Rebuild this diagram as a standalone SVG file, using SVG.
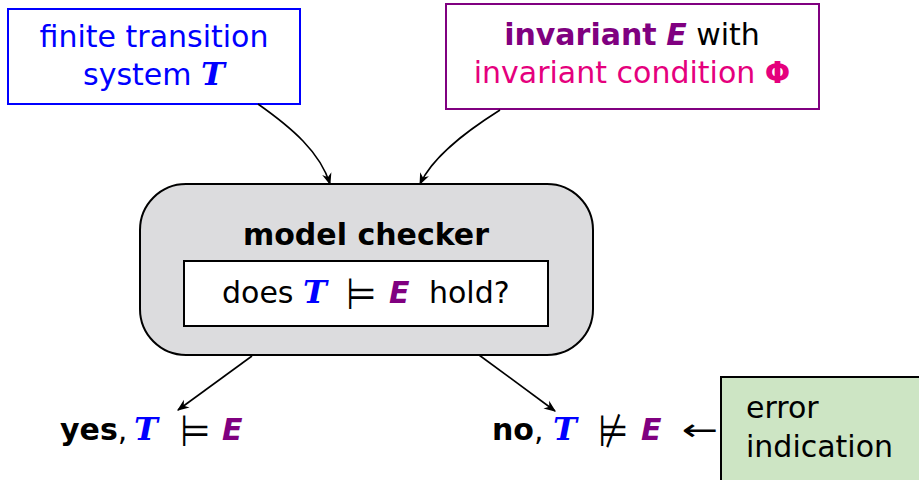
<svg xmlns="http://www.w3.org/2000/svg" width="919" height="480" viewBox="0 0 919 480">
<defs>
<marker id="ah" viewBox="0 0 10 10" refX="9" refY="5" markerWidth="12" markerHeight="12" markerUnits="userSpaceOnUse" orient="auto">
<path d="M0,1 L10,5 L0,9 L3,5 Z" fill="#000"/>
</marker>
<style>
text{font-family:"DejaVu Sans",sans-serif;font-size:30px;}
.b{font-weight:bold;}
.T{font-family:"DejaVu Serif",serif;font-style:italic;font-weight:bold;fill:#0000ff;font-size:32px;}
.E{font-style:italic;font-weight:bold;fill:#800080;}
.blue{fill:#0000ff;}
.pur{fill:#800080;}
.pink{fill:#e5007d;}
.sym{font-size:30px;}
.conn{fill:none;stroke:#000;stroke-width:1.6;marker-end:url(#ah);}
</style>
</defs>
<rect width="919" height="480" fill="#fff"/>

<g id="system">
<rect x="8" y="9" width="292" height="95" fill="#fff" stroke="#0000ff" stroke-width="2"/>
<text x="154" y="47" text-anchor="middle" class="blue">finite transition</text>
<text x="154" y="85" text-anchor="middle" class="blue">system <tspan class="T">T</tspan></text>
</g>

<g id="invariant">
<rect x="446" y="4" width="373" height="105" fill="#fff" stroke="#800080" stroke-width="2"/>
<text x="632" y="45" text-anchor="middle"><tspan class="b pur">invariant</tspan> <tspan class="E">E</tspan> with</text>
<text x="632" y="83" text-anchor="middle" class="pink">invariant condition <tspan class="b">Φ</tspan></text>
</g>

<g id="checker">
<rect x="140" y="184" width="453" height="171" rx="46" ry="46" fill="#dcdcde" stroke="#000" stroke-width="2"/>
<text x="366" y="245" text-anchor="middle" class="b">model checker</text>
<rect x="184" y="261" width="364" height="65" fill="#fff" stroke="#000" stroke-width="2"/>
<text x="222" y="303" font-size="31">does</text>
<text x="303" y="303" class="T">T</text>
<text class="sym" transform="translate(346,309) scale(1.15,1.45)">⊨</text>
<text x="389" y="303" class="E" font-size="31">E</text>
<text x="429" y="303" font-size="31">hold?</text>
</g>

<g id="yes">
<text x="60" y="440"><tspan class="b">yes</tspan>,</text>
<text x="134" y="440" class="T">T</text>
<text class="sym" transform="translate(180,446) scale(1.15,1.45)">⊨</text>
<text x="222" y="440" class="E">E</text>
</g>

<g id="no">
<text x="492" y="440"><tspan class="b">no</tspan>,</text>
<text x="553" y="440" class="T">T</text>
<text class="sym" transform="translate(598,446) scale(1.15,1.45)">⊭</text>
<text x="641" y="440" class="E">E</text>
<text class="sym" transform="translate(682,440) scale(1.45,1)">←</text>
</g>

<g id="error">
<rect x="721" y="377" width="210" height="120" fill="#cde5c4" stroke="#000" stroke-width="2"/>
<text x="746" y="418">error</text>
<text x="746" y="457">indication</text>
</g>

<g id="connectors">
<path class="conn" d="M258,104 C292,128 320,152 330,184"/>
<path class="conn" d="M500,110 C462,134 432,158 420,184"/>
<path class="conn" d="M252,356 L178,410"/>
<path class="conn" d="M479,355 L555,411"/>
</g>
</svg>
